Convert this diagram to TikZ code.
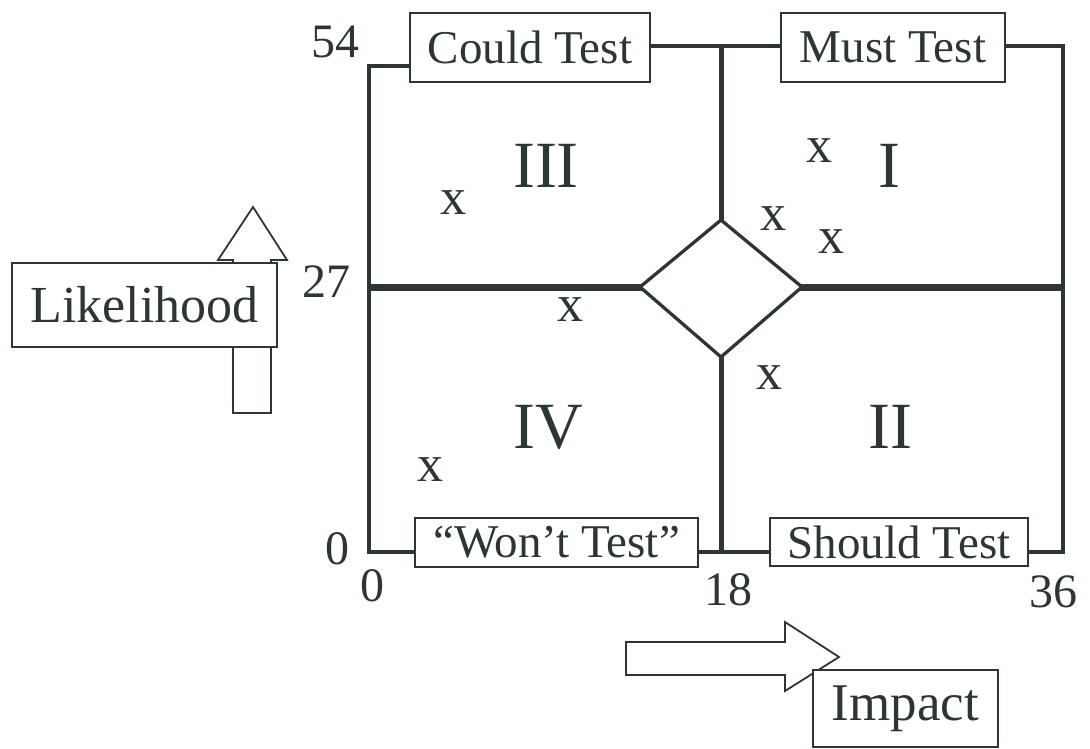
\documentclass[tikz,border=0pt]{standalone}
\usepackage{fontspec}
\setmainfont{Liberation Serif}
\definecolor{ink}{RGB}{45,55,50}
\begin{document}
\begin{tikzpicture}[x=1pt,y=-1pt,
  ink/.style={draw=ink,text=ink},
  lblbox/.style={ink,fill=white,line width=1.8pt,inner sep=0pt,
    font=\fontsize{47}{50}\selectfont},
  numlbl/.style={text=ink,inner sep=0pt,font=\fontsize{48}{50}\selectfont},
  quad/.style={text=ink,inner sep=0pt,font=\fontsize{66}{70}\selectfont},
  xmark/.style={text=ink,inner sep=0pt,font=\fontsize{52}{56}\selectfont},
  outer/.style={draw=ink,line width=4.5pt,line join=miter},
  fatarrow/.style={draw=ink,fill=white,line width=1.8pt,line join=miter}]
\useasboundingbox (0,0) rectangle (1090,749);

% arrows (behind label boxes)
\draw[fatarrow] (233,413) -- (271,413) -- (271,260) -- (287,260) -- (253,207)
  -- (218,260) -- (233,260) -- cycle;
\draw[fatarrow] (626,642) -- (785,642) -- (785,622) -- (839,657) -- (785,691)
  -- (785,675) -- (626,675) -- cycle;

% grid
\coordinate (tl) at (369,66);
\coordinate (bl) at (369,552);
\coordinate (br) at (1063,552);
\coordinate (tr) at (1063,46);
\draw[outer] (420,66) -- (tl) -- (bl) -- (br) -- (tr) -- (640,46);
\draw[draw=ink,line width=5pt] (721,46) -- (721,552);
\draw[draw=ink,line width=7pt] (369,287) -- (1063,287);
\draw[draw=ink,fill=white,line width=3.3pt,line join=miter]
  (640,287) -- (721,220) -- (802,287) -- (721,357) -- cycle;

% label boxes
\node[lblbox,minimum width=240pt,minimum height=69pt] (could) at (530,47.5) {Could Test};
\node[lblbox,minimum width=224pt,minimum height=69pt] (must) at (893,47.5) {Must Test};
\node[lblbox,minimum width=283pt,minimum height=49pt] (wont) at (556.5,542.5) {“Won’t Test”};
\node[lblbox,minimum width=258pt,minimum height=48pt] (should) at (899,542) {Should Test};
\node[lblbox,minimum width=265pt,minimum height=84pt,font=\fontsize{52}{56}\selectfont] (like) at (144.5,305) {Likelihood};
\node[lblbox,minimum width=185pt,minimum height=77pt,font=\fontsize{53}{56}\selectfont] (impact) at (905.5,708.5) {Impact};

% axis numbers
\node[numlbl] (n54) at (335,42) {54};
\node[numlbl] (n27) at (326,282) {27};
\node[numlbl] (n0l) at (337,549) {0};
\node[numlbl] (n0b) at (372,586) {0};
\node[numlbl] (n18) at (728,590) {18};
\node[numlbl] (n36) at (1053,592) {36};

% quadrant numerals
\node[quad] (q3) at (546,166) {III};
\node[quad] (q1) at (889,166) {I};
\node[quad] (q4) at (548,427) {IV};
\node[quad] (q2) at (890,427) {II};

% x marks
\node[xmark] (x1) at (819,151) {x};
\node[xmark] (x2) at (773,219) {x};
\node[xmark] (x3) at (831,242) {x};
\node[xmark] (x4) at (453,203) {x};
\node[xmark] (x5) at (570,310) {x};
\node[xmark] (x6) at (769,378) {x};
\node[xmark] (x7) at (430,470) {x};
\end{tikzpicture}
\end{document}
